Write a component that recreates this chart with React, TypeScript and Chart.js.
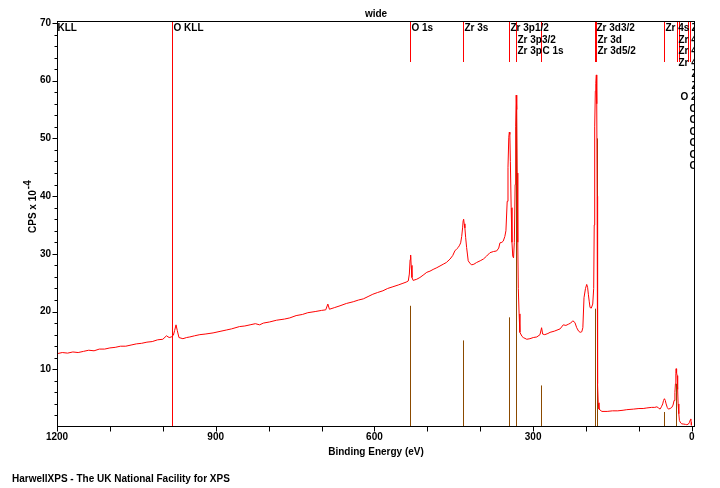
import { useEffect, useRef } from "react";
import Chart from "chart.js/auto";

// survey spectrum, binding energy (eV) and counts (CPS x 10^-4)
const spectrumBE = [
  1200, 1190, 1180, 1170, 1160, 1150, 1140, 1130, 1120, 1110,
  1100, 1090, 1080, 1070, 1060, 1050, 1040, 1030, 1020, 1010,
  1000, 993, 988, 984, 980, 977.7, 975, 972.6, 969.5, 962,
  955, 949, 940, 930, 920, 905, 890, 880, 870, 855,
  845, 835, 825, 817, 810, 798, 785, 770, 760, 748,
  736, 726, 712, 700, 692, 688, 685, 675, 665, 653,
  640, 630, 621, 612, 603, 594, 584, 575, 565, 555,
  546, 540, 536, 534, 532.5, 531.5, 530.5, 529, 526.8, 520,
  514, 508, 501, 495, 489, 482, 476, 470, 464, 457,
  452, 448, 444, 441.6, 439, 437, 435, 433.3, 432.2, 431.4,
  430.2, 429, 427.5, 425.7, 424, 422.7, 419, 416, 412, 406.8,
  400, 394, 388, 381.6, 375, 369, 365, 362.7, 359, 356.5,
  353.5, 351.4, 349, 347.5, 346, 345, 344, 343, 341.5, 340,
  338.5, 337, 335.5, 334, 333, 332, 331, 330, 329, 328,
  326.5, 325, 321, 318.6, 312, 306, 299.7, 293, 287, 284,
  282, 278, 272, 268, 260, 249, 243, 238, 233.5, 229,
  225, 221, 217.6, 214, 211, 208, 206, 203.8, 201, 198.7,
  197, 195.6, 194, 192.4, 190, 187.3, 185.5, 184.5, 184, 183.2,
  182.4, 181.5, 180.5, 179.7, 179, 178.4, 177.9, 177, 175.5, 170,
  160, 150, 140, 130, 123, 110, 100, 92, 85, 76,
  70, 66, 63, 60, 57.5, 55, 53.5, 51.8, 50.2, 48.6,
  46.5, 44.3, 41, 37.8, 35.5, 33.5, 32, 31, 30.2, 29.7,
  28.8, 27.8, 26.8, 25.9, 24.6, 23.4, 21, 19, 15, 12,
  9.5, 6.5, 4.5, 3, 1.9, 1.2, 0.8,
];
const spectrumCps = [
  12.7, 12.9, 12.8, 13.0, 12.9, 13.1, 13.3, 13.2, 13.5, 13.5,
  13.7, 13.8, 14.0, 14.0, 14.2, 14.4, 14.5, 14.7, 14.8, 15.1,
  15.2, 15.8, 15.5, 15.6, 15.9, 16.7, 17.7, 16.7, 15.5, 15.3,
  15.5, 15.6, 15.8, 16.0, 16.1, 16.3, 16.6, 16.8, 17.0, 17.4,
  17.5, 17.7, 17.9, 17.7, 18.0, 18.2, 18.5, 18.7, 18.9, 19.3,
  19.5, 19.8, 20.0, 20.2, 20.3, 21.3, 20.4, 20.7, 21.0, 21.4,
  21.7, 22.0, 22.2, 22.6, 23.0, 23.3, 23.6, 24.0, 24.3, 24.6,
  24.9, 25.1, 25.3, 26.5, 29.0, 29.8, 28.0, 25.9, 25.4, 25.6,
  25.9, 26.3, 26.8, 27.0, 27.3, 27.6, 27.9, 28.2, 28.5, 29.1,
  29.7, 30.5, 30.9, 31.1, 31.5, 31.9, 33.0, 34.5, 35.8, 36.0,
  35.2, 34.5, 32.8, 31.1, 29.8, 28.8, 28.3, 28.1, 28.2, 28.5,
  28.8, 29.1, 29.6, 30.2, 30.4, 30.5, 31.0, 31.9, 32.0, 32.2,
  33.0, 34.0, 39.1, 45.0, 50.2, 51.1, 50.7, 46.0, 38.0, 32.0,
  29.6, 29.3, 32.0, 42.0, 52.0, 57.5, 55.0, 44.0, 32.0, 24.0,
  19.6, 16.4, 15.7, 15.5, 15.2, 15.3, 15.5, 15.6, 16.0, 17.2,
  16.1, 16.0, 16.2, 16.4, 16.6, 17.0, 17.7, 17.6, 17.8, 18.0,
  18.4, 18.1, 17.2, 16.6, 16.4, 16.5, 17.2, 22.4, 24.0, 24.7,
  24.2, 23.0, 21.8, 20.7, 20.6, 21.3, 24.0, 35.0, 42.0, 52.0,
  58.2, 59.5, 61.0, 56.0, 40.0, 20.0, 7.5, 4.2, 3.1, 2.7,
  2.7, 2.8, 2.8, 2.9, 3.0, 3.1, 3.2, 3.2, 3.3, 3.4,
  3.4, 3.5, 3.3, 3.1, 3.5, 4.0, 4.6, 4.9, 4.6, 4.0,
  3.4, 3.1, 3.2, 3.4, 3.8, 4.6, 6.0, 7.5, 9.3, 10.1,
  9.4, 8.9, 6.5, 4.0, 2.3, 1.1, 0.7, 0.55, 0.5, 0.45,
  0.4, 0.5, 0.8, 1.2, 1.4, 0.8, 0.3,
];

// reference peak intensities (brown sticks)
const refNames = ["O 1s", "Zr 3s", "Zr 3p1/2", "Zr 3p3/2", "C 1s", "Zr 3d3/2", "Zr 3d5/2", "Zr 4s", "Zr 4p"];
const refEnergies = [532.3, 432.2, 345.1, 331.9, 284.6, 183.4, 179.8, 52.4, 29.7];
const refHeights = [21.0, 15.0, 19.0, 56.1, 7.2, 20.5, 50.0, 2.6, 7.5];

// peak identification labels
const peakNames = [
  "Zr 3s", "Zr 3p1/2", "Zr 3p3/2", "Zr 3p", "Zr 3d3/2", "Zr 3d", "Zr 3d5/2",
  "Zr 4s", "Zr 4p1/2", "Zr 4p3/2", "Zr 4p", "Zr 4d3/2", "Zr 4d", "Zr 4d5/2",
  "C KLL", "C 1s",
  "O KLL", "O 1s", "O 2s", "O 2p", "O 2p1/2", "O 2p3/2", "O 2p", "O 2p1/2", "O 2p3/2",
];
const peakEnergies = [
  432.2, 345.1, 331.9, 331.9, 183.4, 181.2, 180.8,
  52.4, 28.8, 28.8, 28.8, 3.5, 3.5, 3.5,
  1220, 284.6,
  983.3, 532.3, 25.0, 7.0, 7.0, 7.0, 7.0, 7.0, 7.0,
];

const xTickLabels = [1200, 900, 600, 300, 0];
const xMinorTicks = [1100, 1000, 800, 700, 500, 400, 200, 100];
const yTickLabels = [10, 20, 30, 40, 50, 60, 70];

const FONT = 'bold 10px "Liberation Sans", Arial, sans-serif';
const RED = "#ff0000";
const BROWN = "#8b4a00";

const xpsPlugin = {
  id: "xpsDecor",
  beforeDatasetsDraw(chart: any) {
    const { ctx, chartArea: a, scales } = chart;
    const xs = scales.x;
    const ys = scales.y;
    ctx.save();
    ctx.beginPath();
    ctx.rect(a.left, a.top, a.right - a.left, a.bottom - a.top);
    ctx.clip();
    ctx.strokeStyle = BROWN;
    ctx.lineWidth = 1;
    refEnergies.forEach((e, i) => {
      const px = Math.round(xs.getPixelForValue(e)) + 0.5;
      ctx.beginPath();
      ctx.moveTo(px, ys.getPixelForValue(0));
      ctx.lineTo(px, ys.getPixelForValue(refHeights[i]));
      ctx.stroke();
    });
    ctx.restore();
  },
  afterDatasetsDraw(chart: any) {
    const { ctx, chartArea: a, scales } = chart;
    const xs = scales.x;
    const ys = scales.y;
    ctx.save();
    ctx.font = FONT;

    // peak markers + stacked labels (first free row)
    const rows: [number, number][][] = [];
    const placed: { name: string; px: number; row: number; auger: boolean }[] = [];
    peakNames.forEach((name, i) => {
      const px = Math.round(xs.getPixelForValue(peakEnergies[i])) + 0.5;
      const start = px + 1;
      const end = start + ctx.measureText(name).width;
      let r = 0;
      for (;;) {
        if (!rows[r]) rows[r] = [];
        const hit = rows[r].some(([s, e]) => start < e - 1 && end > s + 1);
        if (!hit) break;
        r++;
      }
      rows[r].push([start, end]);
      placed.push({ name, px, row: r, auger: name.includes("KLL") });
    });

    ctx.beginPath();
    ctx.rect(a.left, a.top, a.right - a.left, a.bottom - a.top);
    ctx.clip();
    ctx.strokeStyle = RED;
    ctx.lineWidth = 1;
    placed.forEach((p) => {
      ctx.beginPath();
      ctx.moveTo(p.px, a.top);
      ctx.lineTo(p.px, p.auger ? a.bottom : a.top + 41);
      ctx.stroke();
    });
    ctx.fillStyle = "#000";
    ctx.textAlign = "left";
    ctx.textBaseline = "middle";
    placed.forEach((p) => {
      ctx.fillText(p.name, p.px + 1, a.top + 7.5 + p.row * 11.5);
    });
    ctx.restore();

    ctx.save();
    ctx.strokeStyle = "#000";
    ctx.fillStyle = "#000";
    ctx.lineWidth = 1;
    ctx.font = FONT;
    ctx.strokeRect(a.left + 0.5, a.top + 0.5, a.right - a.left - 1, a.bottom - a.top - 1);

    // x ticks
    const xb = a.bottom - 0.5;
    ctx.beginPath();
    [...xTickLabels, ...xMinorTicks].forEach((v) => {
      const px = Math.round(xs.getPixelForValue(v)) + 0.5;
      ctx.moveTo(px, xb);
      ctx.lineTo(px, xb + 5);
    });
    // y ticks
    const yl = a.left + 0.5;
    for (let v = 2; v <= 70; v += 2) {
      const py = Math.round(ys.getPixelForValue(v)) + 0.5;
      ctx.moveTo(yl, py);
      ctx.lineTo(yl - (v % 10 === 0 ? 5 : 3), py);
    }
    ctx.stroke();

    ctx.textAlign = "center";
    ctx.textBaseline = "middle";
    xTickLabels.forEach((v) => {
      ctx.fillText(String(v), xs.getPixelForValue(v), 437);
    });
    ctx.textAlign = "right";
    yTickLabels.forEach((v) => {
      ctx.fillText(String(v), a.left - 6, ys.getPixelForValue(v));
    });

    const cx = (a.left + a.right) / 2;
    ctx.textAlign = "center";
    ctx.fillText("wide", cx, 14);
    ctx.fillText("Binding Energy (eV)", cx, 452);
    ctx.textAlign = "left";
    ctx.fillText("HarwellXPS - The UK National Facility for XPS", 12, 479);

    // y title with superscript
    ctx.translate(33, 233);
    ctx.rotate(-Math.PI / 2);
    ctx.textBaseline = "middle";
    const main = "CPS x 10";
    ctx.fillText(main, 0, 0);
    ctx.fillText("-4", ctx.measureText(main).width + 1, -5);
    ctx.restore();
  },
};

export default function App() {
  const canvasRef = useRef<HTMLCanvasElement | null>(null);

  useEffect(() => {
    document.body.style.margin = "0";
    if (!canvasRef.current) return;
    const chart = new Chart(canvasRef.current, {
      type: "line",
      data: {
        datasets: [
          {
            data: spectrumBE.map((x, i) => ({ x, y: spectrumCps[i] })),
            borderColor: RED,
            borderWidth: 1,
            pointRadius: 0,
            tension: 0,
            fill: false,
          },
        ],
      },
      options: {
        responsive: false,
        animation: false,
        events: [],
        layout: { padding: { left: 57, top: 21, right: 25, bottom: 61 } },
        scales: {
          x: { type: "linear", reverse: true, min: -6, max: 1200, display: false },
          y: { type: "linear", min: 0, max: 70.34, display: false },
        },
        plugins: {
          legend: { display: false },
          title: { display: false },
          tooltip: { enabled: false },
        },
      },
      plugins: [xpsPlugin],
    });
    return () => chart.destroy();
  }, []);

  return <canvas ref={canvasRef} width={720} height={488} style={{ display: "block" }} />;
}
